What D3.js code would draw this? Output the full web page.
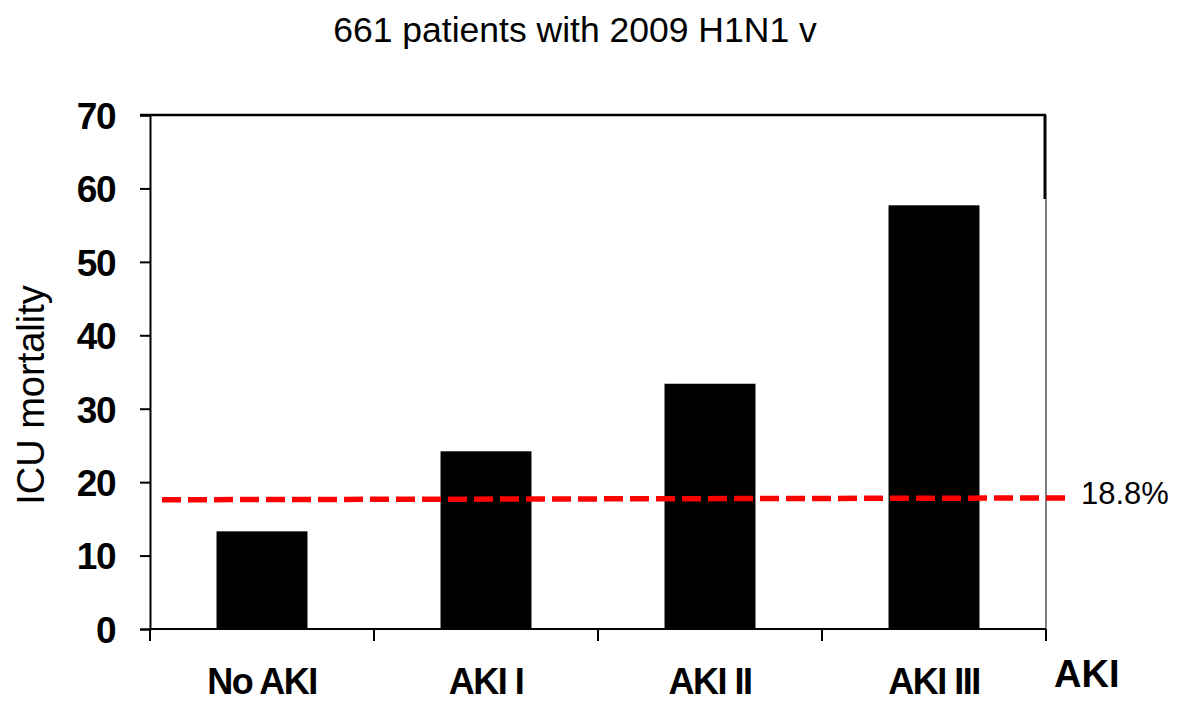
<!DOCTYPE html>
<html>
<head>
<meta charset="utf-8">
<script src="https://cdn.jsdelivr.net/npm/d3@7/dist/d3.min.js"></script>
<style>
  html, body { margin: 0; padding: 0; background: #fff; }
  svg { display: block; font-family: "Liberation Sans", Arial, sans-serif; }
</style>
</head>
<body>
<svg id="chart" width="1179" height="702"></svg>
<script>
const categories = ["No AKI", "AKI I", "AKI II", "AKI III"];
const mortality = [13.3, 24.2, 33.4, 57.7];
const yTicks = [0, 10, 20, 30, 40, 50, 60, 70];
const refLine = [17.6, 17.85];   // dashed overall-mortality line (left end, right end)
const refLabel = "18.8%";
const title = "661 patients with 2009 H1N1 v";
const yTitle = "ICU mortality";
const xTitle = "AKI";

(function () {
const svg = d3.select("#chart");
const mLeft = 150, mRight = 1046, mTop = 115, mBottom = 629;

const x = d3.scaleBand().domain(categories).range([mLeft, mRight])
  .paddingInner(0.594).paddingOuter(0.297);
const y = d3.scaleLinear().domain([0, 70]).range([mBottom, mTop]);

// title
svg.append("text").attr("x", 575).attr("y", 42).attr("text-anchor", "middle")
  .style("font-size", "35.5px").text(title);

// bars
svg.append("g").selectAll("rect").data(categories).join("rect")
  .attr("x", d => x(d)).attr("width", x.bandwidth())
  .attr("y", (d, i) => y(mortality[i]))
  .attr("height", (d, i) => y(0) - y(mortality[i]))
  .attr("fill", "#000");

// frame: top line and right border
svg.append("line").attr("x1", mLeft - 10).attr("x2", mRight).attr("y1", y(70)).attr("y2", y(70))
  .attr("stroke", "#000").attr("stroke-width", 2.5);
svg.append("line").attr("x1", mRight - 1).attr("x2", mRight - 1).attr("y1", y(70)).attr("y2", 199)
  .attr("stroke", "#000").attr("stroke-width", 3);
svg.append("line").attr("x1", mRight).attr("x2", mRight).attr("y1", 199).attr("y2", y(0))
  .attr("stroke", "#000").attr("stroke-width", 1);

// y axis
const yAxis = svg.append("g").attr("transform", `translate(${mLeft},0)`)
  .call(d3.axisLeft(y).tickValues(yTicks).tickSize(10).tickPadding(25));
yAxis.select(".domain").attr("stroke-width", 2);
yAxis.selectAll(".tick line").attr("stroke-width", 2);
yAxis.selectAll(".tick text").style("font-size", "37px").style("font-weight", "bold")
  .style("letter-spacing", "-1.5px")
  .attr("fill", "#000").attr("font-family", "Liberation Sans, Arial, sans-serif").attr("dy", "0.36em");

// x axis baseline and separator ticks
svg.append("line").attr("x1", mLeft).attr("x2", mRight).attr("y1", y(0)).attr("y2", y(0))
  .attr("stroke", "#000").attr("stroke-width", 2);
const step = x.step();
const sepX = d3.range(categories.length + 1).map(i => mLeft + i * step);
svg.append("g").selectAll("line").data(sepX).join("line")
  .attr("x1", d => d).attr("x2", d => d).attr("y1", y(0)).attr("y2", y(0) + 12)
  .attr("stroke", "#000").attr("stroke-width", 2);

// x labels
svg.append("g").selectAll("text").data(categories).join("text")
  .attr("x", d => x(d) + x.bandwidth() / 2).attr("y", 694)
  .attr("text-anchor", "middle").style("font-size", "36px").style("font-weight", "bold")
  .style("letter-spacing", "-1.5px").text(d => d);

// x title
svg.append("text").attr("x", 1054).attr("y", 687).style("font-size", "38px")
  .style("font-weight", "bold").text(xTitle);

// y title
svg.append("text").attr("transform", `translate(44,395) rotate(-90)`)
  .attr("text-anchor", "middle").style("font-size", "38px").text(yTitle);

// dashed reference line
svg.append("line").attr("x1", 162).attr("x2", 1067)
  .attr("y1", y(refLine[0])).attr("y2", y(refLine[1]))
  .attr("stroke", "#ff0000").attr("stroke-width", 5.5).attr("stroke-dasharray", "19,7");
svg.append("text").attr("x", 1081).attr("y", 504).style("font-size", "31px").text(refLabel);
})();
</script>
</body>
</html>
